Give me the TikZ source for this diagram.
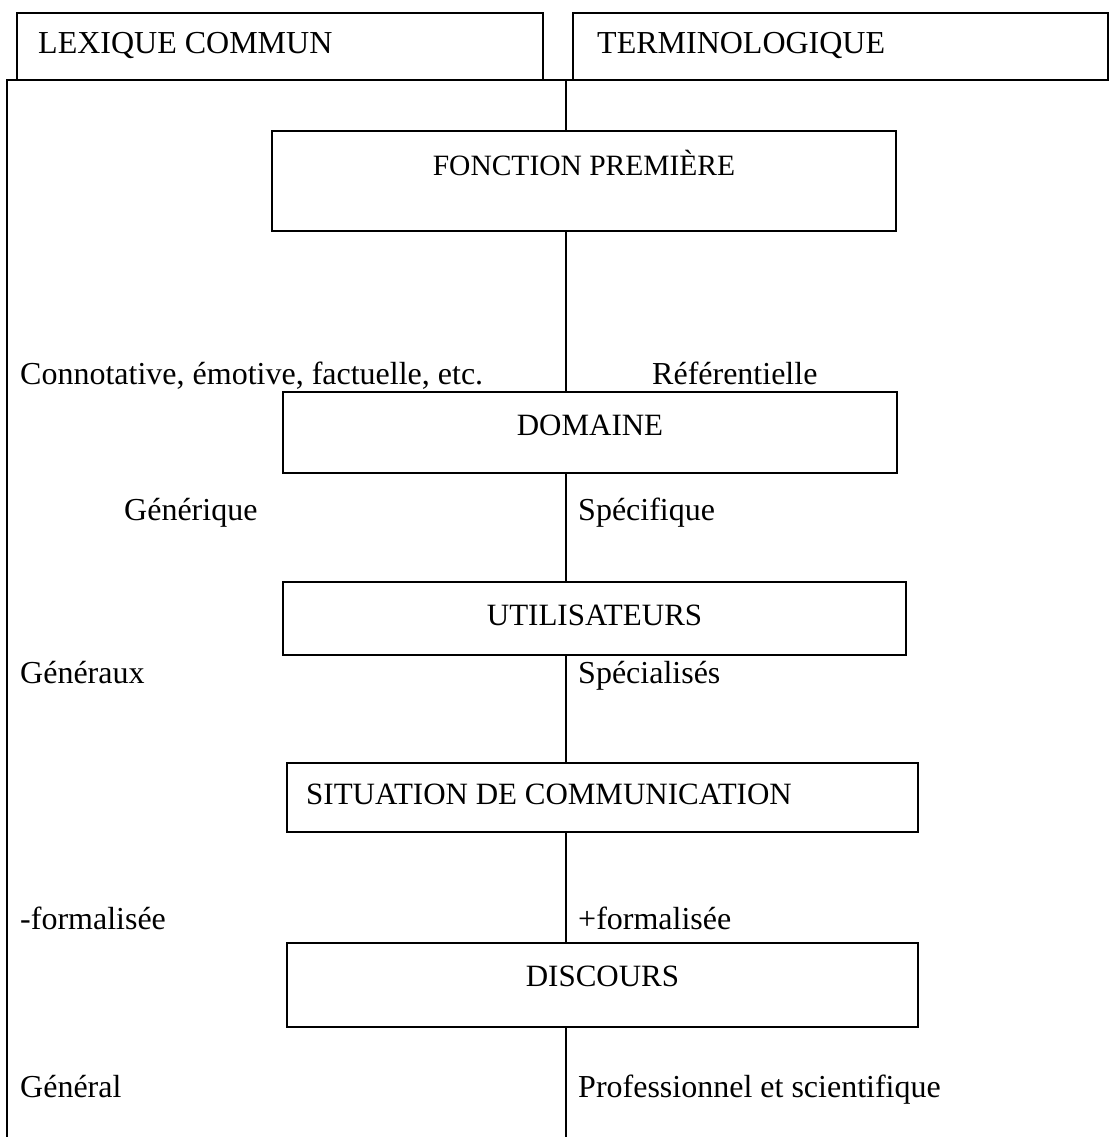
\documentclass[tikz,border=0pt]{standalone}
\usepackage{fontspec}
\setmainfont{Liberation Serif}
\usetikzlibrary{calc}
\begin{document}
\begin{tikzpicture}[x=1pt,y=-1pt,
  frame/.style={line width=1.6pt, black},
  box/.style={draw, line width=1.6pt, fill=white, anchor=north west,
              inner sep=0pt, outer sep=0pt},
  txt/.style={font=\fontsize{32}{38}\selectfont, inner sep=0pt, anchor=base west},
  title/.style={font=\fontsize{31}{37}\selectfont, inner sep=0pt, anchor=base}]
\useasboundingbox (0,0) rectangle (1110,1137);

% heading boxes
\node[box, minimum width=526pt, minimum height=67pt] (lex) at (17,13) {};
\node[box, minimum width=535pt, minimum height=67pt] (term) at (573,13) {};
\node[txt] (lexT) at ($(lex.north west)+(21,41)$) {LEXIQUE COMMUN};
\node[txt] (termT) at ($(term.north west)+(24,41)$) {TERMINOLOGIQUE};

% outer frame (left side and top) and the dividing line
\coordinate (fTop) at (7,80);
\coordinate (fBot) at (7,1137);
\coordinate (cTop) at (566,80);
\coordinate (cBot) at (566,1137);
\draw[frame] (fBot) -- (fTop) -- (term.south west);

% criterion boxes
\node[box, minimum width=624pt, minimum height=100pt] (fonc) at (272,131) {};
\node[box, minimum width=614pt, minimum height=81pt]  (dom)  at (283,392) {};
\node[box, minimum width=623pt, minimum height=73pt]  (util) at (283,582) {};
\node[box, minimum width=631pt, minimum height=69pt]  (sit)  at (287,763) {};
\node[box, minimum width=631pt, minimum height=84pt]  (disc) at (287,943) {};

\node[title, font=\fontsize{29.5}{35}\selectfont] (foncT) at ($(fonc.north)+(0,44)$) {FONCTION PREMIÈRE};
\node[title] (domT)  at ($(dom.north)+(0,43)$)  {DOMAINE};
\node[title] (utilT) at ($(util.north)+(0,43)$) {UTILISATEURS};
\node[title, anchor=base west] (sitT) at ($(sit.north west)+(19,41)$) {SITUATION DE COMMUNICATION};
\node[title] (discT) at ($(disc.north)+(0,43)$) {DISCOURS};

% dividing line, segment by segment between the boxes
\draw[frame] (cTop) -- (cTop |- fonc.north);
\draw[frame] (cTop |- fonc.south) -- (cTop |- dom.north);
\draw[frame] (cTop |- dom.south) -- (cTop |- util.north);
\draw[frame] (cTop |- util.south) -- (cTop |- sit.north);
\draw[frame] (cTop |- sit.south) -- (cTop |- disc.north);
\draw[frame] (cTop |- disc.south) -- (cBot);

% values on each side
\node[txt] (l1) at (20,384)   {Connotative, émotive, factuelle, etc.};
\node[txt] (r1) at (652,384)  {Référentielle};
\node[txt] (l2) at (124,520)  {Générique};
\node[txt] (r2) at (578,520)  {Spécifique};
\node[txt] (l3) at (20,683)   {Généraux};
\node[txt] (r3) at (578,683)  {Spécialisés};
\node[txt] (l4) at (20,929)   {-formalisée};
\node[txt] (r4) at (578,929)  {+formalisée};
\node[txt] (l5) at (20,1097)  {Général};
\node[txt] (r5) at (578,1097) {Professionnel et scientifique};
\end{tikzpicture}
\end{document}
